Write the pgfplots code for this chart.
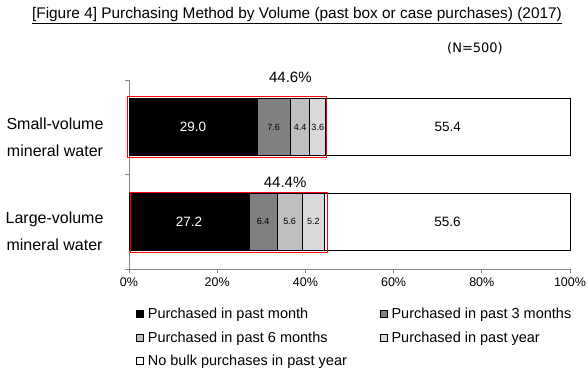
\documentclass[border=0pt]{standalone}
\usepackage{pgfplots}
\pgfplotsset{compat=1.18}
\usepackage{fontspec}
\setmainfont{Liberation Sans}
\newfontfamily\nfont{DejaVu Sans}
\definecolor{c1}{RGB}{0,0,0}
\definecolor{c2}{RGB}{128,128,128}
\definecolor{c3}{RGB}{191,191,191}
\definecolor{c4}{RGB}{217,217,217}
\definecolor{c5}{RGB}{255,255,255}
\definecolor{axgray}{RGB}{134,134,134}
\begin{document}
\begin{tikzpicture}
\useasboundingbox (0pt,0pt) rectangle (588pt,-370pt);
\node[font=\fontsize{15.4}{17}\selectfont] at (297pt,-16pt) {\underline{[Figure 4] Purchasing Method by Volume (past box or case purchases) (2017)}};
\node[font=\nfont\fontsize{13}{15}\selectfont] at (475pt,-48pt) {(N=500)};
\begin{axis}[
  at={(129pt,-269pt)}, anchor=south west,
  width=441pt, height=189pt, scale only axis,
  xbar stacked, bar width=57pt,
  xmin=0, xmax=100, ymin=-0.5, ymax=1.5,
  axis x line*=bottom, axis y line*=left,
  axis line style={axgray, line width=0.8pt},
  xtick={0,20,40,60,80,100},
  xticklabel={\pgfmathprintnumber{\tick}\%},
  /pgf/number format/assume math mode=true,
  xticklabel style={font=\fontsize{12.5}{14}\selectfont, yshift=-1pt},
  tick align=outside, major tick length=4pt,
  tick style={axgray, line width=0.8pt},
  ytick={0,1},
  yticklabels={{Large-volume\\[8pt]mineral water},{Small-volume\\[8pt]mineral water}},
  yticklabel style={align=center, font=\fontsize{16}{19}\selectfont, xshift=-18pt, yshift=-10pt},
  y tick style={draw=none},
  extra y ticks={-0.5,0.5,1.5},
  extra y tick labels={},
  extra y tick style={y tick style={axgray, line width=0.8pt, draw=axgray}, major tick length=4pt},
  legend style={at={(axis description cs:0.016,-0.195)}, anchor=north west, draw=none,
    legend columns=2, font=\fontsize{14.5}{16}\selectfont,
    row sep=7.5pt, inner sep=0pt,
    /tikz/every odd column/.append style={column sep=2pt},
    /tikz/column 2/.style={column sep=31pt}},
  legend cell align=left,
  legend image code/.code={\draw[#1, draw=black, line width=0.6pt] (0pt,-3.5pt) rectangle (7pt,3.5pt);},
  every axis plot/.append style={draw=black, line width=0.7pt},
  clip=false,
]
\addplot[fill=c1] coordinates {(27.2,0) (29.0,1)};
\addplot[fill=c2] coordinates {(6.4,0) (7.6,1)};
\addplot[fill=c3] coordinates {(5.6,0) (4.4,1)};
\addplot[fill=c4] coordinates {(5.2,0) (3.6,1)};
\addplot[fill=c5] coordinates {(55.6,0) (55.4,1)};
\legend{Purchased in past month, Purchased in past 3 months, Purchased in past 6 months, Purchased in past year, No bulk purchases in past year}
\coordinate (r1a) at (axis cs:-0.4,0.675);
\coordinate (r1b) at (axis cs:44.8,1.33);
\coordinate (r2a) at (axis cs:0.35,-0.325);
\coordinate (r2b) at (axis cs:44.9,0.31);
\coordinate (a1) at (axis cs:14.5,1);
\coordinate (a2) at (axis cs:32.8,1);
\coordinate (a3) at (axis cs:38.8,1);
\coordinate (a4) at (axis cs:42.8,1);
\coordinate (a5) at (axis cs:72.3,1);
\coordinate (b1) at (axis cs:13.6,0);
\coordinate (b2) at (axis cs:30.4,0);
\coordinate (b3) at (axis cs:36.4,0);
\coordinate (b4) at (axis cs:41.8,0);
\coordinate (b5) at (axis cs:72.2,0);
\coordinate (t1) at (axis cs:36.6,1.53);
\coordinate (t2) at (axis cs:35.4,0.42);
\end{axis}
\draw[red, line width=1pt] (r1a) rectangle (r1b);
\draw[red, line width=1pt] (r2a) rectangle (r2b);
\node[white, font=\fontsize{13.5}{15}\selectfont] at (a1) {29.0};
\node[font=\fontsize{9}{10}\selectfont] at (a2) {7.6};
\node[font=\fontsize{9}{10}\selectfont] at (a3) {4.4};
\node[font=\fontsize{9}{10}\selectfont] at (a4) {3.6};
\node[font=\fontsize{13.5}{15}\selectfont] at (a5) {55.4};
\node[white, font=\fontsize{13.5}{15}\selectfont] at (b1) {27.2};
\node[font=\fontsize{9}{10}\selectfont] at (b2) {6.4};
\node[font=\fontsize{9}{10}\selectfont] at (b3) {5.6};
\node[font=\fontsize{9}{10}\selectfont] at (b4) {5.2};
\node[font=\fontsize{13.5}{15}\selectfont] at (b5) {55.6};
\node[font=\fontsize{15}{17}\selectfont] at (t1) {44.6\%};
\node[font=\fontsize{15}{17}\selectfont] at (t2) {44.4\%};
\end{tikzpicture}
\end{document}
